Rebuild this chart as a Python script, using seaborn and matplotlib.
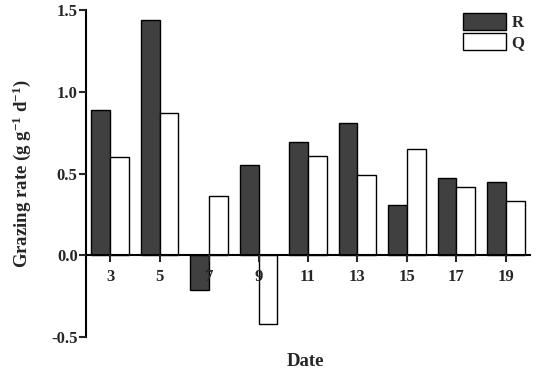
import matplotlib
matplotlib.use("Agg")
import matplotlib.pyplot as plt
import seaborn as sns
import pandas as pd
from matplotlib.patches import Patch

dates = ["3", "5", "7", "9", "11", "13", "15", "17", "19"]
r_values = [0.89, 1.44, -0.21, 0.55, 0.69, 0.81, 0.31, 0.47, 0.45]
q_values = [0.60, 0.87, 0.36, -0.42, 0.61, 0.49, 0.65, 0.42, 0.33]
groups = ["R", "Q"]
colors = {"R": "#404040", "Q": "#ffffff"}

df = pd.DataFrame({
    "Date": dates * 2,
    "value": r_values + q_values,
    "group": ["R"] * len(dates) + ["Q"] * len(dates),
})

sns.set_style("white")
plt.rcParams["font.family"] = ["Liberation Serif", "DejaVu Serif"]
plt.rcParams["font.weight"] = "bold"
plt.rcParams["mathtext.fontset"] = "custom"
plt.rcParams["mathtext.rm"] = "Liberation Serif"
plt.rcParams["mathtext.bf"] = "Liberation Serif:bold"
plt.rcParams["mathtext.default"] = "bf"

fig = plt.figure(figsize=(5.36, 3.77), dpi=100)
ax = fig.add_axes([86 / 536, 1 - 337 / 377, (530 - 86) / 536, (337 - 10) / 377])

sns.barplot(data=df, x="Date", y="value", hue="group", order=dates,
            hue_order=groups, palette=colors, width=0.75, edgecolor="black",
            linewidth=1.0, saturation=1, ax=ax, legend=False)

ax.set_axisbelow(False)
ax.set_xlim(-0.485, 8.485)
ax.set_ylim(-0.5, 1.5)
ax.set_yticks([-0.5, 0.0, 0.5, 1.0, 1.5])
ax.set_yticklabels(["-0.5", "0.0", "0.5", "1.0", "1.5"])

for s in ["top", "right"]:
    ax.spines[s].set_visible(False)
ax.spines["bottom"].set_position(("data", 0))
ax.spines["left"].set_linewidth(1.5)
ax.spines["bottom"].set_linewidth(1.5)
ax.spines["left"].set_color("black")
ax.spines["bottom"].set_color("black")

ax.tick_params(axis="y", direction="out", length=5, width=1.5, labelsize=12, pad=1, left=True)
ax.tick_params(axis="x", direction="out", length=5, width=1.5, labelsize=12, pad=5, bottom=True)
for lab in ax.get_xticklabels() + ax.get_yticklabels():
    lab.set_fontweight("bold")

ax.set_xlabel("")
ax.set_ylabel(r"Grazing rate (g g$^{-1}$ d$^{-1}$)", fontsize=13.5,
              fontweight="bold", labelpad=13)
fig.text(0.5 * (86 + 530) / 536 - 0.005, 1 - 362 / 377, "Date", ha="center", va="center",
         fontsize=13.5, fontweight="bold")

handles = [Patch(facecolor=colors[g], edgecolor="black", linewidth=1.0, label=g) for g in groups]
ax.legend(handles=handles, loc="upper right", bbox_to_anchor=(1.01, 1.02), frameon=False,
          handlelength=2.6, handleheight=1.15, handletextpad=0.3, labelspacing=0.1,
          borderaxespad=0.2,
          prop={"weight": "bold", "size": 12, "family": "Liberation Serif"})

fig.savefig("out.png", dpi=100)
